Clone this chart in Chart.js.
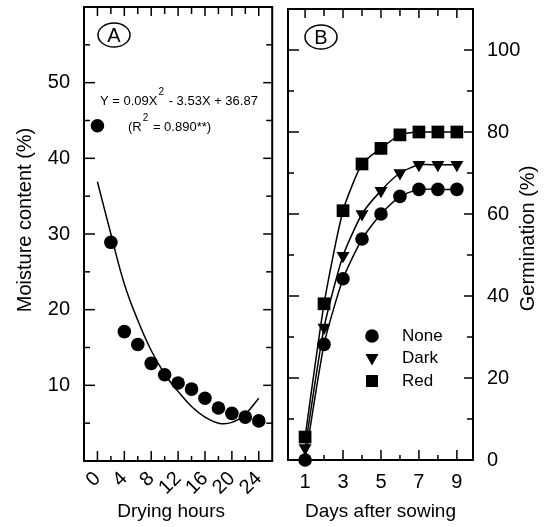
<!DOCTYPE html>
<html>
<head>
<meta charset="utf-8">
<script src="https://cdn.jsdelivr.net/npm/chart.js@4.4.1/dist/chart.umd.min.js"></script>
<style>
  html, body { margin: 0; padding: 0; background: #fff; }
  #wrap { position: relative; width: 545px; height: 527px; }
  canvas { position: absolute; top: 0; }
  #chartA { left: 0; }
  #chartB { left: 279px; }
</style>
</head>
<body>
<div id="wrap">
  <canvas id="chartA" width="279" height="527"></canvas>
  <canvas id="chartB" width="266" height="527"></canvas>
</div>
<script>
// Panel A - moisture content during drying
const dryingHours = [0, 2, 4, 6, 8, 10, 12, 14, 16, 18, 20, 22, 24];
const moisture = [44.3, 28.9, 17.1, 15.4, 12.9, 11.4, 10.3, 9.5, 8.3, 7.0, 6.3, 5.8, 5.3];
// regression curve as drawn in the figure
const fitCurve = [36.9, 30.0, 23.4, 18.6, 14.6, 11.5, 9.2, 7.2, 5.8, 5.0, 5.1, 6.2, 8.3];

const hourTicks = [0, 2, 4, 6, 8, 10, 12, 14, 16, 18, 20, 22, 24];
const hourLabels = [0, 4, 8, 12, 16, 20, 24];
const moistTicks = [5, 10, 15, 20, 25, 30, 35, 40, 45, 50, 55];
const moistLabels = [10, 20, 30, 40, 50];

// Panel B - germination after sowing
const days = [1, 2, 3, 4, 5, 6, 7, 8, 9];
const germNone = [0, 28.2, 44.2, 53.9, 60.0, 64.3, 66.0, 66.0, 66.0];
const germDark = [2.9, 32.3, 49.8, 60.0, 65.7, 70.0, 72.0, 72.0, 72.0];
const germRed = [5.6, 38.1, 60.8, 72.2, 76.0, 79.3, 80.0, 80.0, 80.0];

const dayTicks = [1, 2, 3, 4, 5, 6, 7, 8, 9];
const dayLabels = [1, 3, 5, 7, 9];
const germTicks = [10, 20, 30, 40, 50, 60, 70, 80, 90, 100];
const germLabels = [0, 20, 40, 60, 80, 100];

const FONT = "'Liberation Sans', Arial, sans-serif";

function pts(xs, ys) {
  return xs.map((x, i) => ({ x: x, y: ys[i] }));
}

function seg(ctx, x1, y1, x2, y2) {
  ctx.beginPath();
  ctx.moveTo(x1, y1);
  ctx.lineTo(x2, y2);
  ctx.stroke();
}

function vText(ctx, text, x, y) {
  ctx.save();
  ctx.translate(x, y);
  ctx.rotate(-Math.PI / 2);
  ctx.textAlign = 'center';
  ctx.textBaseline = 'middle';
  ctx.fillText(text, 0, 0);
  ctx.restore();
}

function panelLabel(ctx, letter, x, y) {
  ctx.save();
  ctx.lineWidth = 1.5;
  ctx.beginPath();
  ctx.ellipse(x, y, 16, 12, 0, 0, Math.PI * 2);
  ctx.stroke();
  ctx.font = '20px ' + FONT;
  ctx.textAlign = 'center';
  ctx.textBaseline = 'middle';
  ctx.fillText(letter, x, y + 1);
  ctx.restore();
}

// frame, inward ticks and titles
function framePlugin(cfg) {
  return {
    id: 'frame' + cfg.id,
    afterDraw(chart) {
      const { ctx, chartArea: a, scales } = chart;
      ctx.save();
      ctx.strokeStyle = '#000';
      ctx.fillStyle = '#000';
      ctx.lineWidth = 1.5;
      cfg.xTicks.forEach(v => {
        const px = scales.x.getPixelForValue(v);
        const major = cfg.xLabels.includes(v);
        seg(ctx, px, a.bottom, px, a.bottom - (major ? 10 : 5));
        seg(ctx, px, a.top, px, a.top + (major ? 9 : 7));
      });
      cfg.yTicks.forEach(v => {
        const py = scales.y.getPixelForValue(v);
        const major = cfg.yLabels.includes(v);
        seg(ctx, a.left, py, a.left + (major ? 11 : 6), py);
        seg(ctx, a.right, py, a.right - (major ? 9 : 6), py);
      });
      ctx.lineWidth = 2;
      ctx.strokeRect(a.left, a.top, a.right - a.left, a.bottom - a.top);

      ctx.font = '19px ' + FONT;
      ctx.textAlign = 'center';
      ctx.textBaseline = 'middle';
      ctx.fillText(cfg.xTitle, (a.left + a.right) / 2 + cfg.xTitleShift, 512);
      ctx.font = '20px ' + FONT;
      vText(ctx, cfg.yTitle, cfg.yTitleX, (a.top + a.bottom) / 2 + cfg.yTitleShift);

      panelLabel(ctx, cfg.id, a.left + cfg.badgeX, a.top + 28);
      if (cfg.extra) cfg.extra(ctx, a);
      ctx.restore();
    }
  };
}

function drawEquation(ctx, a) {
  const big = '13px ' + FONT;
  const small = '10px ' + FONT;
  let x = a.left + 16;
  let y = a.top + 98;
  ctx.textAlign = 'left';
  ctx.textBaseline = 'alphabetic';
  ctx.font = big;
  ctx.fillText('Y = 0.09X', x, y);
  x += ctx.measureText('Y = 0.09X').width + 1;
  ctx.font = small;
  ctx.fillText('2', x, y - 10);
  x += ctx.measureText('2').width + 1;
  ctx.font = big;
  ctx.fillText(' - 3.53X + 36.87', x, y);

  x = a.left + 44;
  y = a.top + 124;
  ctx.fillText('(R', x, y);
  x += ctx.measureText('(R').width + 1;
  ctx.font = small;
  ctx.fillText('2', x, y - 10);
  x += ctx.measureText('2').width + 1;
  ctx.font = big;
  ctx.fillText(' = 0.890**)', x, y);
}

function drawLegend(ctx, a) {
  const items = [
    { name: 'None', shape: 'circle' },
    { name: 'Dark', shape: 'triangle' },
    { name: 'Red', shape: 'square' }
  ];
  const sx = a.left + 84;
  ctx.font = '17px ' + FONT;
  ctx.textAlign = 'left';
  ctx.textBaseline = 'middle';
  items.forEach((it, i) => {
    const y = a.top + 327 + i * 22.5;
    ctx.beginPath();
    if (it.shape === 'circle') {
      ctx.arc(sx, y, 6.8, 0, Math.PI * 2);
    } else if (it.shape === 'triangle') {
      ctx.moveTo(sx - 6.5, y - 4.5);
      ctx.lineTo(sx + 6.5, y - 4.5);
      ctx.lineTo(sx, y + 7);
      ctx.closePath();
    } else {
      ctx.rect(sx - 6, y - 6, 12, 12);
    }
    ctx.fill();
    ctx.fillText(it.name, sx + 30, y);
  });
}

function linearAxis(min, max, labels, extra) {
  return Object.assign({
    type: 'linear',
    min: min,
    max: max,
    grid: { display: false, drawTicks: false },
    border: { display: false },
    afterBuildTicks: s => { s.ticks = labels.map(v => ({ value: v })); },
    ticks: { autoSkip: false, color: '#000', font: { size: 20, family: FONT } }
  }, extra);
}

const baseOptions = {
  responsive: false,
  animation: false,
  events: [],
  plugins: { legend: { display: false }, tooltip: { enabled: false } }
};

new Chart(document.getElementById('chartA'), {
  type: 'scatter',
  data: {
    datasets: [
      {
        label: 'Fit',
        data: pts(dryingHours, fitCurve),
        showLine: true,
        borderColor: '#000',
        borderWidth: 1.5,
        pointRadius: 0,
        tension: 0.4,
        clip: false
      },
      {
        label: 'Moisture',
        data: pts(dryingHours, moisture),
        backgroundColor: '#000',
        borderWidth: 0,
        pointRadius: 6.8,
        clip: false
      }
    ]
  },
  options: Object.assign({}, baseOptions, {
    layout: { padding: { top: 7, right: 4, left: 0, bottom: 0 } },
    scales: {
      x: linearAxis(-2, 26, hourLabels, {
        afterFit: s => { s.height = 66; s.paddingLeft = 0; s.paddingRight = 0; },
        ticks: { autoSkip: false, minRotation: 45, maxRotation: 45, padding: 6, color: '#000', font: { size: 20, family: FONT } }
      }),
      y: linearAxis(0, 60, moistLabels, {
        afterFit: s => { s.width = 84; s.paddingTop = 0; s.paddingBottom = 0; },
        ticks: { autoSkip: false, padding: 14, color: '#000', font: { size: 20, family: FONT } }
      })
    }
  }),
  plugins: [framePlugin({
    id: 'A', xTicks: hourTicks, xLabels: hourLabels, yTicks: moistTicks, yLabels: moistLabels,
    xTitle: 'Drying hours', xTitleShift: -7, yTitle: 'Moisture content (%)', yTitleX: 25, yTitleShift: -14,
    badgeX: 30, extra: drawEquation
  })]
});

const lineStyle = {
  showLine: true,
  borderColor: '#000',
  backgroundColor: '#000',
  borderWidth: 1.5,
  pointBorderWidth: 0,
  tension: 0.2,
  clip: false
};

new Chart(document.getElementById('chartB'), {
  type: 'scatter',
  data: {
    datasets: [
      Object.assign({ label: 'None', data: pts(days, germNone), pointStyle: 'circle', pointRadius: 6.8 }, lineStyle),
      Object.assign({ label: 'Dark', data: pts(days, germDark), pointStyle: 'triangle', pointRotation: 180, pointRadius: 7.5 }, lineStyle),
      Object.assign({ label: 'Red', data: pts(days, germRed), pointStyle: 'rect', pointRadius: 9 }, lineStyle)
    ]
  },
  options: Object.assign({}, baseOptions, {
    layout: { padding: { top: 6, right: 0, left: 4, bottom: 0 } },
    scales: {
      x: linearAxis(0.1, 9.85, dayLabels, {
        afterFit: s => { s.height = 67; s.paddingLeft = 0; s.paddingRight = 0; },
        ticks: { autoSkip: false, maxRotation: 0, padding: 10, color: '#000', font: { size: 20, family: FONT } }
      }),
      y: linearAxis(0, 110, germLabels, {
        position: 'right',
        afterFit: s => { s.width = 72; s.paddingTop = 0; s.paddingBottom = 0; },
        ticks: { autoSkip: false, padding: 14, color: '#000', font: { size: 20, family: FONT } }
      })
    }
  }),
  plugins: [framePlugin({
    id: 'B', xTicks: dayTicks, xLabels: dayLabels, yTicks: germTicks, yLabels: germLabels,
    xTitle: 'Days after sowing', xTitleShift: 0, yTitle: 'Germination (%)', yTitleX: 249, yTitleShift: 4,
    badgeX: 33, extra: drawLegend
  })]
});
</script>
</body>
</html>
